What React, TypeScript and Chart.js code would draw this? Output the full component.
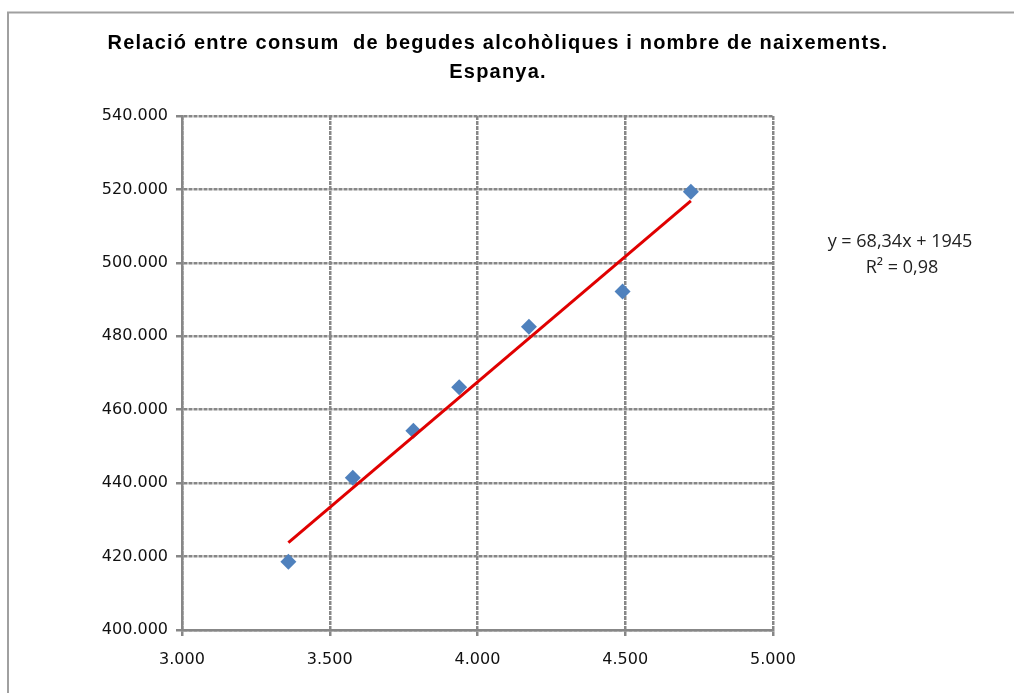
import React, { useEffect, useRef } from "react";
import { Chart, registerables } from "chart.js";

Chart.register(...registerables);

// Data
const consumX = [3360, 3578, 3783, 3938, 4174, 4491, 4722];
const naixementsY = [418600, 441500, 454300, 466100, 482600, 492200, 519400];
const trendX = [3360, 4722];
const trendY = [423800, 516900];
const xTicks = [3000, 3500, 4000, 4500, 5000];
const yTicks = [400000, 420000, 440000, 460000, 480000, 500000, 520000, 540000];
const titleLines = [
  "Relació entre consum  de begudes alcohòliques i nombre de naixements.",
  "Espanya.",
];
const equationLines = ["y = 68,34x + 1945", "R² = 0,98"];

const fmt = (v: number) =>
  Math.round(v)
    .toString()
    .replace(/\B(?=(\d{3})+(?!\d))/g, ".");

const W = 1014;
const H = 693;

const decorPlugin = {
  id: "decor",
  beforeDraw(chart: any) {
    const ctx = chart.ctx;
    ctx.save();
    ctx.fillStyle = "#ffffff";
    ctx.fillRect(0, 0, W, H);
    ctx.strokeStyle = "#a0a0a0";
    ctx.lineWidth = 2;
    ctx.beginPath();
    ctx.moveTo(8, H);
    ctx.lineTo(8, 12.5);
    ctx.lineTo(W, 12.5);
    ctx.stroke();
    ctx.restore();
  },
  afterDraw(chart: any) {
    const ctx = chart.ctx;
    ctx.save();
    ctx.fillStyle = "#000000";
    ctx.textAlign = "center";
    ctx.textBaseline = "alphabetic";
    ctx.font = "bold 20px 'Liberation Sans', Arial, sans-serif";
    (ctx as any).letterSpacing = "1.2px";
    ctx.fillText(titleLines[0], 498, 49);
    ctx.fillText(titleLines[1], 498, 78);
    (ctx as any).letterSpacing = "0px";
    ctx.fillStyle = "#222222";
    ctx.font = "18px 'Open Sans', sans-serif";
    ctx.textBaseline = "middle";
    ctx.fillText(equationLines[0], 900, 242);
    ctx.fillText(equationLines[1], 902, 268);
    ctx.restore();
  },
};

export default function App() {
  const ref = useRef<HTMLCanvasElement | null>(null);
  useEffect(() => {
    document.body.style.margin = "0";
    const canvas = ref.current;
    if (!canvas) return;
    const gridCommon = {
      color: "#878787",
      lineWidth: 2.5,
      tickLength: 6,
      tickColor: "#878787",
      tickWidth: 2.5,
    };
    const chart = new Chart(canvas, {
      type: "scatter",
      data: {
        datasets: [
          {
            type: "scatter",
            label: "Naixements",
            data: consumX.map((x, i) => ({ x, y: naixementsY[i] })),
            pointStyle: "rectRot",
            pointRadius: 8,
            pointHoverRadius: 8,
            backgroundColor: "#4F81BD",
            borderColor: "#4F81BD",
            borderWidth: 0,
            order: 2,
          },
          {
            type: "line",
            label: "Tendència",
            data: trendX.map((x, i) => ({ x, y: trendY[i] })),
            borderColor: "#E00000",
            borderWidth: 3,
            pointRadius: 0,
            fill: false,
            order: 1,
          } as any,
        ],
      },
      options: {
        responsive: false,
        animation: false,
        layout: { padding: { top: 116, left: 0, right: 241, bottom: 0 } },
        plugins: {
          legend: { display: false },
          title: { display: false },
          tooltip: { enabled: false },
        },
        scales: {
          x: {
            type: "linear",
            min: 3000,
            max: 5000,
            afterBuildTicks: (s: any) => {
              s.ticks = xTicks.map((v) => ({ value: v }));
            },
            afterFit: (s: any) => {
              s.height = H - 630;
            },
            grid: gridCommon,
            border: { display: true, color: "#878787", width: 2.5, dash: [4, 1] },
            ticks: {
              padding: 14,
              color: "#111111",
              font: { family: "'DejaVu Sans', sans-serif", size: 16 },
              callback: (v: any) => fmt(Number(v)),
              maxRotation: 0,
            },
          },
          y: {
            type: "linear",
            min: 400000,
            max: 540000,
            afterBuildTicks: (s: any) => {
              s.ticks = yTicks.map((v) => ({ value: v }));
            },
            afterFit: (s: any) => {
              s.width = 182;
            },
            grid: gridCommon,
            border: { display: true, color: "#878787", width: 2.5, dash: [4, 1] },
            ticks: {
              padding: 8,
              color: "#111111",
              font: { family: "'DejaVu Sans', sans-serif", size: 16 },
              callback: (v: any) => fmt(Number(v)),
            },
          },
        },
      },
      plugins: [decorPlugin],
    });
    return () => chart.destroy();
  }, []);
  return (
    <canvas
      ref={ref}
      width={W}
      height={H}
      style={{ display: "block", width: W, height: H }}
    />
  );
}
